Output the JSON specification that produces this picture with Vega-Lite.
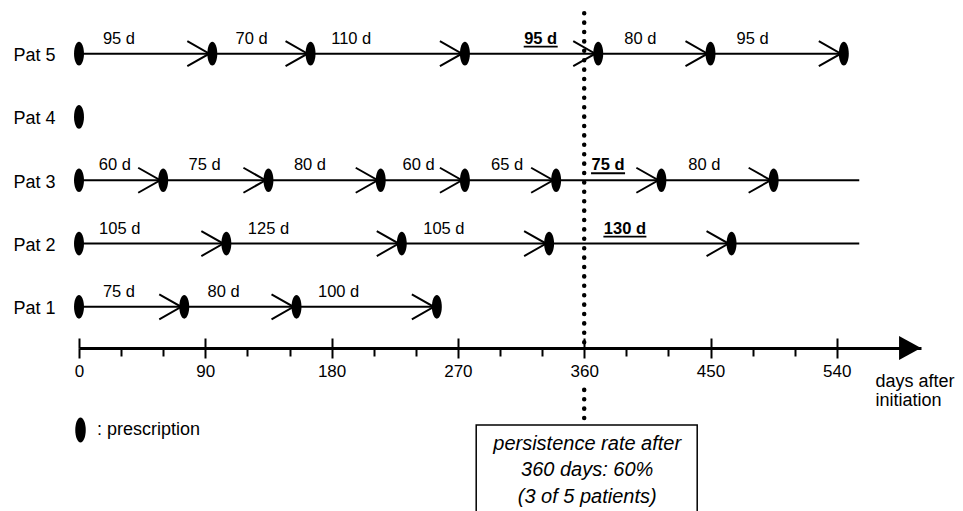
{
  "$schema": "https://vega.github.io/schema/vega-lite/v6.json",
  "width": 842,
  "height": 326,
  "autosize": {"type": "none"},
  "padding": {"left": 79, "top": 22, "right": 42, "bottom": 163},
  "background": "white",
  "config": {"view": {"stroke": null}, "font": "Liberation Sans", "text": {"font": "Liberation Sans"}},
  "datasets": {
    "lines": [
      {"pat": 5, "from": 0, "to": 545},
      {"pat": 3, "from": 0, "to": 556},
      {"pat": 2, "from": 0, "to": 556},
      {"pat": 1, "from": 0, "to": 255}
    ],
    "rx": [
      {"pat": 5, "day": 0}, {"pat": 5, "day": 95}, {"pat": 5, "day": 165}, {"pat": 5, "day": 275}, {"pat": 5, "day": 370}, {"pat": 5, "day": 450}, {"pat": 5, "day": 545},
      {"pat": 4, "day": 0},
      {"pat": 3, "day": 0}, {"pat": 3, "day": 60}, {"pat": 3, "day": 135}, {"pat": 3, "day": 215}, {"pat": 3, "day": 275}, {"pat": 3, "day": 340}, {"pat": 3, "day": 415}, {"pat": 3, "day": 495},
      {"pat": 2, "day": 0}, {"pat": 2, "day": 105}, {"pat": 2, "day": 230}, {"pat": 2, "day": 335}, {"pat": 2, "day": 465},
      {"pat": 1, "day": 0}, {"pat": 1, "day": 75}, {"pat": 1, "day": 155}, {"pat": 1, "day": 255}
    ],
    "supply": [
      {"pat": 5, "start": 0, "end": 95, "label": "95 d", "labelAt": 28.5, "key": false},
      {"pat": 5, "start": 95, "end": 165, "label": "70 d", "labelAt": 123, "key": false},
      {"pat": 5, "start": 165, "end": 275, "label": "110 d", "labelAt": 194, "key": false},
      {"pat": 5, "start": 275, "end": 370, "label": "95 d", "labelAt": 329, "key": true},
      {"pat": 5, "start": 370, "end": 450, "label": "80 d", "labelAt": 400, "key": false},
      {"pat": 5, "start": 450, "end": 545, "label": "95 d", "labelAt": 480, "key": false},
      {"pat": 3, "start": 0, "end": 60, "label": "60 d", "labelAt": 25.6, "key": false},
      {"pat": 3, "start": 60, "end": 135, "label": "75 d", "labelAt": 89.5, "key": false},
      {"pat": 3, "start": 135, "end": 215, "label": "80 d", "labelAt": 164.6, "key": false},
      {"pat": 3, "start": 215, "end": 275, "label": "60 d", "labelAt": 242, "key": false},
      {"pat": 3, "start": 275, "end": 340, "label": "65 d", "labelAt": 305, "key": false},
      {"pat": 3, "start": 340, "end": 415, "label": "75 d", "labelAt": 377, "key": true},
      {"pat": 3, "start": 415, "end": 495, "label": "80 d", "labelAt": 445.6, "key": false},
      {"pat": 2, "start": 0, "end": 105, "label": "105 d", "labelAt": 29, "key": false},
      {"pat": 2, "start": 105, "end": 230, "label": "125 d", "labelAt": 135, "key": false},
      {"pat": 2, "start": 230, "end": 335, "label": "105 d", "labelAt": 260, "key": false},
      {"pat": 2, "start": 335, "end": 465, "label": "130 d", "labelAt": 389, "key": true},
      {"pat": 1, "start": 0, "end": 75, "label": "75 d", "labelAt": 28.5, "key": false},
      {"pat": 1, "start": 75, "end": 155, "label": "80 d", "labelAt": 103, "key": false},
      {"pat": 1, "start": 155, "end": 255, "label": "100 d", "labelAt": 185, "key": false}
    ],
    "note": [
      {"day": 360, "text": ["persistence rate after", "360 days: 60%", "(3 of 5 patients)"]}
    ]
  },
  "layer": [
    {
      "data": {"name": "lines"},
      "mark": {"type": "rule", "strokeWidth": 2, "color": "black"},
      "encoding": {
        "x": {
          "field": "from", "type": "quantitative",
          "scale": {"domain": [0, 600], "nice": false, "zero": false},
          "axis": {
            "orient": "bottom",
            "values": [0, 30, 60, 90, 120, 150, 180, 210, 240, 270, 300, 330, 360, 390, 420, 450, 480, 510, 540],
            "labelExpr": "datum.value % 90 === 0 ? datum.label : ''",
            "labelOverlap": false, "labelFlush": false,
            "labelFontSize": 17, "labelColor": "black", "labelPadding": 5,
            "domainColor": "black", "domainWidth": 3,
            "tickColor": "black", "tickWidth": 2,
            "tickSize": {"condition": {"test": "datum.value % 90 === 0", "value": 10}, "value": 8},
            "grid": true, "gridColor": "black", "gridWidth": 2, "gridDash": [0, 316, 10, 1000],
            "gridOpacity": {"condition": {"test": "datum.value % 90 === 0", "value": 1}, "value": 0},
            "title": ["\u2002days after", "initiation"],
            "titleX": 796, "titleY": 38, "titleAlign": "left", "titleBaseline": "alphabetic",
            "titleFontSize": 18, "titleFontWeight": "normal", "titleColor": "black", "titleLineHeight": 19.5
          }
        },
        "x2": {"field": "to"},
        "y": {
          "field": "pat", "type": "quantitative",
          "scale": {"domain": [0.35, 5.5], "nice": false, "zero": false},
          "axis": {
            "values": [1, 2, 3, 4, 5],
            "labelExpr": "'Pat ' + datum.value",
            "domain": false, "ticks": false, "grid": false,
            "labelPadding": 24, "labelFontSize": 18, "labelColor": "black", "labelOffset": 2,
            "title": null
          }
        }
      }
    },
    {
      "data": {"name": "supply"},
      "mark": {"type": "point", "shape": "M-1.76,-1L0,0L-1.76,1", "filled": false, "stroke": "black", "strokeWidth": 2, "size": 625, "opacity": 1, "xOffset": -3},
      "encoding": {
        "x": {"field": "end", "type": "quantitative"},
        "y": {"field": "pat", "type": "quantitative"}
      }
    },
    {
      "data": {"name": "rx"},
      "mark": {"type": "point", "filled": true, "color": "black", "opacity": 1, "size": 560},
      "encoding": {
        "x": {"field": "day", "type": "quantitative"},
        "y": {"field": "pat", "type": "quantitative"},
        "shape": {
          "datum": "prescription",
          "scale": {"range": ["M0,-1C0.232,-1,0.42,-0.552,0.42,0C0.42,0.552,0.232,1,0,1C-0.232,1,-0.42,0.552,-0.42,0C-0.42,-0.552,-0.232,-1,0,-1Z"]},
          "legend": {
            "orient": "none", "legendX": -11, "legendY": 395.5,
            "title": null, "labelExpr": "': prescription'",
            "labelFontSize": 18, "labelColor": "black", "labelFont": "Liberation Sans",
            "symbolSize": 625, "symbolFillColor": "black", "symbolStrokeColor": "black", "symbolStrokeWidth": 0,
            "padding": 0, "labelOffset": 4
          }
        }
      }
    },
    {
      "data": {"name": "supply"},
      "transform": [{"filter": "datum.key === false"}],
      "mark": {"type": "text", "fontSize": 16.5, "align": "center", "baseline": "alphabetic", "dy": -10, "color": "black"},
      "encoding": {
        "x": {"field": "labelAt", "type": "quantitative"},
        "y": {"field": "pat", "type": "quantitative"},
        "text": {"field": "label"}
      }
    },
    {
      "data": {"name": "supply"},
      "transform": [{"filter": "datum.key === true"}],
      "mark": {"type": "text", "fontSize": 16.5, "fontWeight": "bold", "align": "center", "baseline": "alphabetic", "dy": -10, "color": "black"},
      "encoding": {
        "x": {"field": "labelAt", "type": "quantitative"},
        "y": {"field": "pat", "type": "quantitative"},
        "text": {"field": "label"}
      }
    },
    {
      "data": {"name": "supply"},
      "transform": [{"filter": "datum.key === true"}],
      "mark": {"type": "tick", "orient": "horizontal", "thickness": 1.8, "color": "black", "opacity": 1, "yOffset": -7},
      "encoding": {
        "x": {"field": "labelAt", "type": "quantitative"},
        "y": {"field": "pat", "type": "quantitative"},
        "size": {"condition": {"test": "datum.label === '130 d'", "value": 43}, "value": 34}
      }
    },
    {
      "data": {"name": "note"},
      "mark": {"type": "rule", "color": "black", "strokeWidth": 4.5, "strokeCap": "round", "strokeDash": [0.1, 9.3]},
      "encoding": {
        "x": {"field": "day", "type": "quantitative"},
        "y": {"datum": 5.64, "type": "quantitative"},
        "y2": {"datum": 0.35}
      }
    },
    {
      "data": {"name": "note"},
      "mark": {"type": "rule", "color": "black", "strokeWidth": 4.5, "strokeCap": "round", "strokeDash": [0.1, 9.3]},
      "encoding": {
        "x": {"field": "day", "type": "quantitative"},
        "y": {"datum": -0.31, "type": "quantitative"},
        "y2": {"datum": -0.866}
      }
    },
    {
      "data": {"name": "note"},
      "mark": {"type": "rect", "fill": "white", "stroke": "black", "strokeWidth": 1.5, "xOffset": -108, "x2Offset": 113},
      "encoding": {
        "x": {"field": "day", "type": "quantitative"},
        "x2": {"field": "day"},
        "y": {"datum": -0.866, "type": "quantitative"},
        "y2": {"datum": -2.6}
      }
    },
    {
      "data": {"name": "note"},
      "mark": {"type": "text", "fontSize": 20, "fontStyle": "italic", "align": "center", "baseline": "alphabetic", "lineHeight": 26.5, "dx": 3, "color": "black"},
      "encoding": {
        "x": {"field": "day", "type": "quantitative"},
        "y": {"datum": -1.261, "type": "quantitative"},
        "text": {"field": "text"}
      }
    },
    {
      "data": {"values": [{"end": 600, "axisAt": 0.35}]},
      "mark": {"type": "point", "shape": "M-1.83,-1L0,0L-1.83,1Z", "filled": true, "color": "black", "opacity": 1, "size": 576},
      "encoding": {
        "x": {"field": "end", "type": "quantitative"},
        "y": {"field": "axisAt", "type": "quantitative"}
      }
    }
  ]
}
